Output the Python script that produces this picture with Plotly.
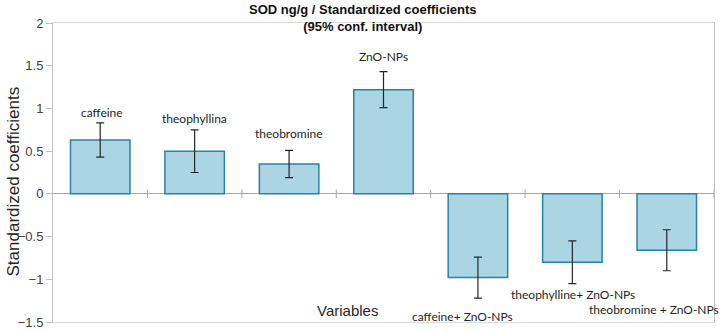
import plotly.graph_objects as go

categories = ["caffeine", "theophyllina", "theobromine", "ZnO-NPs",
              "caffeine+ ZnO-NPs", "theophylline+ ZnO-NPs", "theobromine + ZnO-NPs"]
coefficients = [0.63, 0.50, 0.35, 1.22, -0.98, -0.80, -0.66]
ci_half = [0.20, 0.25, 0.16, 0.21, 0.24, 0.25, 0.24]
y_ticks = [-1.5, -1, -0.5, 0, 0.5, 1, 1.5, 2]

# label styling offsets (pixels) relative to error-bar end
label_dy = [10, 11, 17, 15, -18, -11, -39]
label_dx = [2, 0, 0, 0, -15, 1, -13]

x = list(range(len(categories)))

fig = go.Figure()
fig.add_trace(go.Bar(
    x=x, y=coefficients, width=0.63,
    marker=dict(color="#abd5e2", line=dict(color="#2583a6", width=1.5)),
    error_y=dict(type="data", array=ci_half, visible=True,
                 color="#262626", thickness=1.2, width=4),
    showlegend=False,
))

annotations = []
for i, (c, v, e) in enumerate(zip(categories, coefficients, ci_half)):
    end = v + e if v >= 0 else v - e
    annotations.append(dict(
        x=i, y=end, text=c, showarrow=False, xref="x", yref="y",
        yanchor="middle", xanchor="center",
        yshift=label_dy[i], xshift=label_dx[i],
        font=dict(family="Lato, Open Sans, sans-serif", size=12, color="#262626"),
    ))
annotations.append(dict(
    x=0.5, y=1.0, xref="paper", yref="paper", yanchor="middle", yshift=5,
    text="<b>SOD ng/g / Standardized coefficients<br>(95% conf. interval)</b>",
    showarrow=False, xshift=-21,
    font=dict(family="Liberation Sans, Arial", size=13, color="#111111"),
))
annotations.append(dict(
    x=3.0 - 0.38, y=-1.5, xref="x", yref="y", yanchor="middle", yshift=12,
    text="Variables", showarrow=False,
    font=dict(family="Liberation Sans, Arial", size=15, color="#262626"),
))
annotations.append(dict(
    x=0, y=0.5, xref="paper", yref="paper", xanchor="center", yanchor="middle",
    xshift=-40, yshift=-9, textangle=-90,
    text="Standardized coefficients", showarrow=False,
    font=dict(family="Liberation Sans, Arial", size=17, color="#262626"),
))
fig.update_layout(annotations=annotations)

shapes = []
for i in range(len(categories)):
    b = i + 0.5
    shapes.append(dict(type="line", xref="x", yref="y", x0=b, x1=b,
                       y0=-0.05, y1=0.05, line=dict(color="#a6a6a6", width=1)))
fig.update_layout(shapes=shapes)

fig.update_layout(
    width=726, height=332,
    margin=dict(l=53, r=12, t=23, b=10),
    plot_bgcolor="white", paper_bgcolor="white",
    xaxis=dict(range=[-0.5, 6.5], showticklabels=False, showgrid=False,
               zeroline=False, showline=True, linecolor="#d9d9d9",
               linewidth=1, mirror=True, ticks="", automargin=False),
    yaxis=dict(range=[-1.5, 2], tickvals=y_ticks, showgrid=False,
               zeroline=True, zerolinecolor="#a6a6a6", zerolinewidth=1,
               showline=True, linecolor="#bfbfbf", linewidth=1, mirror=True,
               ticks="outside", ticklen=6, tickcolor="#bfbfbf", automargin=False,
               tickfont=dict(family="Liberation Sans, Arial", size=13, color="#404040")),
)

fig.write_html("out.html")
